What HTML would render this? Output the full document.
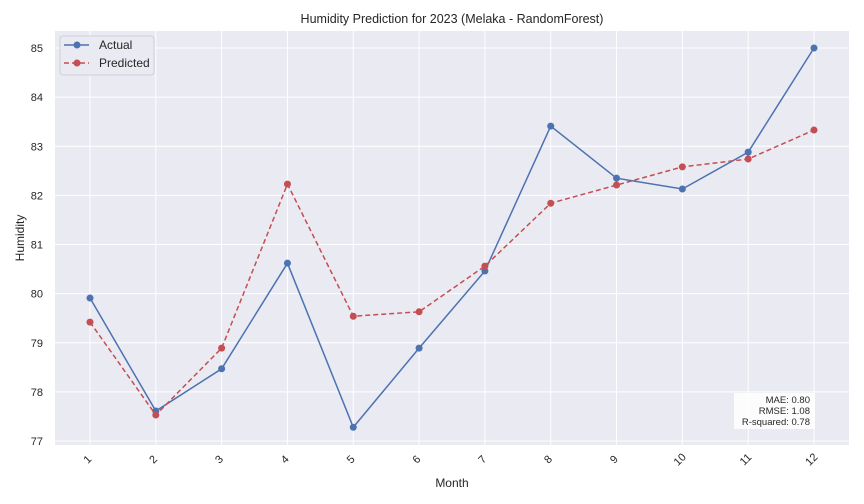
<!DOCTYPE html>
<html><head><meta charset="utf-8"><style>
body{margin:0;background:#fff;}
svg{display:block;font-family:"Liberation Sans","DejaVu Sans",sans-serif;}
</style></head><body>
<svg id="chart" width="864" height="504" viewBox="0 0 864 504" xmlns="http://www.w3.org/2000/svg"></svg>
<script>
const months = [1,2,3,4,5,6,7,8,9,10,11,12];
const actual = [79.91,77.61,78.47,80.62,77.28,78.89,80.46,83.41,82.35,82.13,82.88,85.0];
const predicted = [79.42,77.53,78.89,82.23,79.54,79.63,80.56,81.84,82.21,82.58,82.74,83.33];
const yTicks = [77,78,79,80,81,82,83,84,85];
const metrics = ["MAE: 0.80","RMSE: 1.08","R-squared: 0.78"];

const svg = document.getElementById('chart');
const NS = 'http://www.w3.org/2000/svg';
const L=55,R=849,T=31,B=445;
const x = m => 90 + (m-1)*(814-90)/11;
const y = v => 48 + (85-v)*(441-48)/8;
function mk(tag, attrs, parent){const e=document.createElementNS(NS,tag);for(const k in attrs)e.setAttribute(k,attrs[k]);(parent||svg).appendChild(e);return e;}

const bg = mk('rect',{x:L,y:T,width:R-L,height:B-T,fill:'#eaeaf2'});



yTicks.forEach(v=>{
  const g = mk('line',{x1:L,x2:R,y1:y(v),y2:y(v),stroke:'#fff','stroke-width':1});
  
  
  const t = mk('text',{x:L-12,y:y(v)+4,'text-anchor':'end','font-size':11,fill:'#262626'});
  t.textContent=v;
  
  
});
months.forEach(m=>{
  const g = mk('line',{x1:x(m),x2:x(m),y1:T,y2:B,stroke:'#fff','stroke-width':1});
  
  
  const t = mk('text',{x:0,y:0,'text-anchor':'middle','font-size':11,fill:'#262626',transform:`translate(${x(m)},${B+17}) rotate(-45)`});
  t.textContent=m;
  
  
});

function series(vals,color,dash,name){
  const p = mk('polyline',{points:vals.map((v,i)=>x(months[i])+','+y(v)).join(' '),fill:'none',stroke:color,'stroke-width':1.5,'stroke-dasharray':dash});
  
  
  vals.forEach((v,i)=>{
    const c = mk('circle',{cx:x(months[i]),cy:y(v),r:3.5,fill:color});
    
    
  });
}
series(actual,'#4c72b0','','actual');
series(predicted,'#c44e52','5,3','predicted');

const title = mk('text',{x:452,y:23,'text-anchor':'middle','font-size':12.5,fill:'#262626'});
title.textContent='Humidity Prediction for 2023 (Melaka - RandomForest)';


const xt = mk('text',{x:452,y:487,'text-anchor':'middle','font-size':12,fill:'#262626'});
xt.textContent='Month';


const yt = mk('text',{x:0,y:0,'text-anchor':'middle','font-size':12,fill:'#262626',transform:'translate(24,238) rotate(-90)'});
yt.textContent='Humidity';



const lg = mk('g',{});


mk('rect',{x:60,y:36,width:94,height:39,rx:3,fill:'#eaeaf2',stroke:'#d0d0d8','stroke-width':1},lg);
[['Actual','#4c72b0','',45,'legend-entry-actual'],['Predicted','#c44e52','5,3',63,'legend-entry-predicted']].forEach(d=>{
  const e = mk('g',{},lg);
  
  
  mk('line',{x1:64,x2:89,y1:d[3],y2:d[3],stroke:d[1],'stroke-width':1.5,'stroke-dasharray':d[2]},e);
  mk('circle',{cx:77,cy:d[3],r:3.5,fill:d[1]},e);
  const t = mk('text',{x:99,y:d[3]+4,'font-size':12,fill:'#262626'},e);
  t.textContent=d[0];
});

const mb = mk('g',{});


mk('rect',{x:734,y:393,width:81,height:36,fill:'#fff','fill-opacity':0.85},mb);
metrics.forEach((s,i)=>{
  const t = mk('text',{x:810,y:403+i*11,'text-anchor':'end','font-size':9.5,fill:'#262626'},mb);
  t.textContent=s;
});
</script>
</body></html>
